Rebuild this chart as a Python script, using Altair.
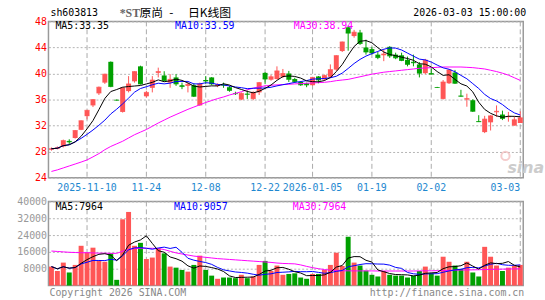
import altair as alt
import pandas as pd

dates = [
    "2025-10-31",
    "2025-11-03", "2025-11-04", "2025-11-05", "2025-11-06", "2025-11-07",
    "2025-11-10", "2025-11-11", "2025-11-12", "2025-11-13", "2025-11-14",
    "2025-11-17", "2025-11-18", "2025-11-19", "2025-11-20", "2025-11-21",
    "2025-11-24", "2025-11-25", "2025-11-26", "2025-11-27", "2025-11-28",
    "2025-12-01", "2025-12-02", "2025-12-03", "2025-12-04", "2025-12-05",
    "2025-12-08", "2025-12-09", "2025-12-10", "2025-12-11", "2025-12-12",
    "2025-12-15", "2025-12-16", "2025-12-17", "2025-12-18", "2025-12-19",
    "2025-12-22", "2025-12-23", "2025-12-24", "2025-12-25", "2025-12-26",
    "2025-12-29", "2025-12-30", "2025-12-31",
    "2026-01-05", "2026-01-06", "2026-01-07", "2026-01-08", "2026-01-09",
    "2026-01-12", "2026-01-13", "2026-01-14", "2026-01-15", "2026-01-16",
    "2026-01-19", "2026-01-20", "2026-01-21", "2026-01-22", "2026-01-23",
    "2026-01-26", "2026-01-27", "2026-01-28", "2026-01-29", "2026-01-30",
    "2026-02-02", "2026-02-03", "2026-02-04", "2026-02-05", "2026-02-06",
    "2026-02-09", "2026-02-10", "2026-02-11", "2026-02-12", "2026-02-13",
    "2026-02-24", "2026-02-25", "2026-02-26", "2026-02-27",
    "2026-03-02", "2026-03-03",
]

opens = [28.3, 28.45, 28.8, 29.65, 30.1, 31.35, 33.45, 35.1, 36.95, 38.6,
         41.8, 35.95, 34.1, 37.3, 38.8, 41.1, 36.5, 37.8, 40.1, 39.7,
         38.6, 39.4, 38.2, 38.1, 38.2, 35.1, 39.0, 39.4, 38.1, 38.3,
         37.9, 36.95, 36.0, 36.9, 36.1, 37.1, 40.1, 39.05, 39.15, 39.5,
         40.0, 39.15, 38.7, 38.5, 38.2, 39.55, 39.1, 39.5, 40.6, 43.45,
         47.1, 45.75, 46.3, 44.0, 43.75, 42.9, 42.8, 44.1, 42.9, 42.8,
         42.1, 41.8, 41.4, 40.05, 40.05, 37.9, 36.1, 38.5, 40.15, 36.6,
         36.0, 35.9, 32.7, 31.0, 32.5, 34.05, 33.7, 33.3, 32.0, 32.4]
closes = [28.45, 28.6, 29.7, 29.5, 31.25, 32.75, 34.35, 36.0, 37.9, 39.9,
          38.0, 35.9, 37.8, 38.4, 40.3, 38.4, 37.1, 39.0, 40.3, 38.9,
          39.1, 38.4, 38.0, 38.35, 36.5, 38.4, 38.85, 38.4, 38.3, 38.2,
          37.4, 36.9, 36.95, 36.8, 37.1, 38.6, 39.15, 39.5, 40.4, 40.0,
          39.1, 38.75, 38.25, 38.25, 39.4, 39.0, 39.7, 40.6, 42.75, 44.85,
          46.2, 46.35, 44.6, 43.3, 43.15, 42.45, 43.0, 42.7, 42.4, 42.0,
          41.4, 41.65, 40.05, 42.05, 39.9, 37.85, 38.7, 40.55, 38.5, 36.5,
          36.15, 34.2, 32.6, 33.0, 33.5, 34.2, 33.1, 33.4, 32.9, 33.2]
highs = [28.65, 28.8, 29.85, 29.9, 31.3, 32.8, 34.4, 36.05, 38.0, 39.95,
         41.85, 36.0, 37.85, 39.6, 40.35, 41.2, 37.35, 39.6, 40.9, 40.35,
         39.9, 39.9, 38.6, 38.6, 38.5, 38.6, 39.6, 39.45, 38.5, 38.6,
         38.1, 37.2, 37.1, 37.4, 37.25, 38.7, 40.2, 39.8, 41.1, 40.7,
         40.4, 39.35, 38.85, 38.6, 39.45, 39.6, 39.85, 41.4, 42.8, 44.9,
         47.35, 46.7, 46.7, 45.2, 44.1, 43.3, 43.75, 44.2, 43.2, 43.2,
         42.6, 42.9, 41.75, 42.25, 40.8, 37.95, 39.0, 40.65, 40.55, 37.5,
         36.9, 36.05, 33.6, 33.5, 33.6, 35.1, 34.3, 34.1, 33.4, 34.2]
lows = [28.15, 28.35, 28.65, 29.15, 30.0, 31.3, 32.95, 34.85, 36.7, 38.4,
        37.9, 35.85, 34.0, 37.1, 38.6, 38.3, 36.3, 37.1, 39.4, 38.85,
        37.8, 38.1, 37.6, 37.1, 36.4, 35.05, 38.4, 38.2, 37.9, 37.8,
        37.2, 36.7, 35.9, 36.1, 35.9, 36.7, 38.4, 38.9, 39.1, 39.3,
        38.7, 38.55, 38.1, 37.9, 38.15, 38.5, 38.9, 39.35, 40.4, 43.3,
        43.5, 45.5, 44.4, 42.9, 42.9, 42.2, 41.9, 42.4, 42.2, 41.9,
        41.1, 41.1, 39.4, 39.9, 39.85, 37.8, 36.0, 38.4, 38.4, 36.45,
        34.9, 34.1, 32.55, 30.85, 31.25, 33.35, 32.85, 32.6, 32.0, 32.4]
volumes = [9000, 6900, 10900, 6200, 9800, 18900, 15800, 18000, 11700, 11300,
           15300, 2700, 31500, 35000, 18900, 20300, 12600, 13300, 17700, 15300,
           9000, 8500, 7400, 6600, 9800, 14200, 7400, 4700, 3200, 3800,
           3800, 3500, 5100, 3500, 4300, 9800, 11700, 6900, 9500, 5100,
           5500, 5800, 3800, 3200, 5500, 5500, 7400, 9800, 15600, 9300,
           23200, 10900, 9500, 7100, 5100, 4300, 6900, 5100, 4700, 4700,
           3800, 4600, 6900, 9000, 5800, 4700, 13700, 11300, 9500, 7900,
           11300, 6200, 4300, 18400, 13700, 9500, 6900, 8500, 9500, 9800]
ma30 = [24.96, 25.2, 25.5, 25.8, 26.1, 26.4, 26.73, 27.2, 27.7, 28.3,
        28.8, 29.2, 29.6, 30.1, 30.6, 31.0, 31.4, 31.9, 32.4, 32.85,
        33.3, 33.7, 34.1, 34.5, 34.85, 35.2, 35.55, 35.85, 36.15, 36.4,
        36.7, 36.95, 37.2, 37.5, 37.75, 37.95, 38.1, 38.2, 38.25, 38.3,
        38.35, 38.4, 38.45, 38.5, 38.55, 38.6, 38.65, 38.75, 38.9, 39.0,
        39.1, 39.3, 39.5, 39.7, 39.9, 40.05, 40.2, 40.3, 40.4, 40.5,
        40.6, 40.7, 40.8, 40.85, 40.9, 40.95, 41.0, 41.0, 41.0, 41.0,
        40.95, 40.9, 40.8, 40.7, 40.5, 40.3, 40.05, 39.75, 39.35, 38.94]
vol_ma30 = [16400, 16200, 16000, 15800, 15700, 15600, 15600, 15500, 15400, 15400,
            15300, 15300, 16300, 17200, 17600, 17700, 17700, 17700, 17600, 17100,
            16300, 15500, 15000, 14500, 14000, 13700, 13400, 13100, 12800, 12600,
            12400, 12200, 12000, 11800, 11600, 11400, 11200, 11000, 10700, 10500,
            10400, 10300, 9800, 9100, 8500, 8000, 7600, 7300, 7100, 7000,
            7000, 6950, 6950, 6950, 6950, 6900, 6900, 6900, 6900, 6900,
            6900, 6900, 6950, 7000, 7000, 7050, 7100, 7200, 7300, 7350,
            7400, 7450, 7500, 7600, 7700, 7750, 7800, 7850, 7900, 7950]

label_dates = ["2025-11-10", "2025-11-24", "2025-12-08", "2025-12-22",
               "2026-01-05", "2026-01-19", "2026-02-02", "2026-03-03"]
price_ticks = [24, 28, 32, 36, 40, 44, 48]
vol_ticks = [8000, 16000, 24000, 32000, 40000]

RED = "#FF5656"
GREEN = "#00A000"
XLAB = "#1E88D0"
MONO = "DejaVu Sans Mono"
W, HP, HV = 480, 158, 85

df = pd.DataFrame(dict(date=dates, idx=list(range(len(dates))), open=opens,
                       close=closes, high=highs, low=lows, vol=volumes,
                       ma30=ma30, vma30=vol_ma30))
base = alt.Chart(df).transform_calculate(
    dir="datum.close >= datum.open ? 'up' : 'down'")

xscale = alt.Scale(type="band", domain=dates, paddingInner=0, paddingOuter=0)
xaxis = alt.Axis(values=label_dates, ticks=False, domain=False, grid=False,
                 labelColor=XLAB, labelPadding=5, labelFlush=False,
                 labelOverlap=False, labelAngle=0,
                 labelExpr="(datum.value == '2025-11-10' || datum.value == '2026-01-05') ? datum.value : slice(datum.value, 5)",
                 labelAlign={"condition": {"test": "datum.value == '2026-03-03'", "value": "right"}, "value": "center"})
xp = alt.X("date:O", scale=xscale, axis=xaxis, title=None)
xv = alt.X("date:O", scale=xscale, axis=None, title=None)

color = alt.Color("dir:N", scale=alt.Scale(domain=["up", "down"], range=[RED, GREEN]), legend=None)

pscale = alt.Scale(domain=[24, 48], nice=False, zero=False)
paxis = alt.Axis(values=price_ticks, grid=True, gridDash=[2, 2], gridColor="#b4b4b4",
                 ticks=False, domain=False, labelColor="#FF0000", labelPadding=2,
                 labelFlush=False, labelOverlap=False, title=None)
vscale = alt.Scale(domain=[0, 40000], nice=False)
vaxis = alt.Axis(values=vol_ticks, grid=True, gridDash=[2, 2], gridColor="#b4b4b4",
                 ticks=False, domain=False, labelColor="#999999", labelPadding=2,
                 labelFlush=False, labelOverlap=False, format="d", title=None)


def py(field):
    return alt.Y(field, scale=pscale, axis=paxis, title=None)


def vy(field):
    return alt.Y(field, scale=vscale, axis=vaxis, title=None)


def txt(s, x, y, color="black", align="left", size=10, font=MONO, **kw):
    return alt.Chart(pd.DataFrame({"t": [s]})).mark_text(
        align=align, baseline="middle", fontSize=size, font=font, color=color, **kw
    ).encode(x=alt.value(x), y=alt.value(y), text="t:N")


marks_df = pd.DataFrame({"date": label_dates})
vrules_p = alt.Chart(marks_df).mark_rule(color="#aaaaaa", strokeDash=[5, 3], strokeWidth=1).encode(x=xp)
vrules_v = alt.Chart(marks_df).mark_rule(color="#aaaaaa", strokeDash=[5, 3], strokeWidth=1).encode(x=xv)

wicks = base.mark_rule(strokeWidth=1).encode(x=xp, y=py("low:Q"), y2="high:Q", color=color)
bodies = base.mark_bar(size=5).encode(x=xp, y=py("open:Q"), y2="close:Q", color=color)
dojis = base.mark_tick(size=5, thickness=1, orient="horizontal").encode(x=xp, y=py("close:Q"), color=color)

ma5_p = base.transform_window(m5="mean(close)", frame=[-4, 0], sort=[alt.SortField("idx")]) \
    .mark_line(color="black", strokeWidth=1).encode(x=xp, y=py("m5:Q"))
ma10_p = base.transform_window(m10="mean(close)", frame=[-9, 0], sort=[alt.SortField("idx")]) \
    .mark_line(color="#0000FF", strokeWidth=1).encode(x=xp, y=py("m10:Q"))
ma30_p = base.mark_line(color="#FF00FF", strokeWidth=1).encode(x=xp, y=py("ma30:Q"))

price = alt.layer(
    vrules_p, wicks, bodies, dojis, ma30_p, ma10_p, ma5_p,
    txt("sh603813", 2, -8),
    txt("*ST", 72, -8, color="#666666", size=12, font="Liberation Serif", fontWeight="bold"),
    txt("原尚", 92, -8, size=12, font="Noto Sans CJK SC"),
    txt("-", 122, -8, size=12, font="Noto Sans CJK SC"),
    txt("日K线图", 141, -8, size=12, font="Noto Sans CJK SC"),
    txt("2026-03-03 15:00:00", 483, -8, align="right"),
    txt("MA5:33.35", 7, 5),
    txt("MA10:33.59", 128, 5, color="#0000FF"),
    txt("MA30:38.94", 248, 5, color="#FF00FF"),
    txt("sina", 464, 148, color="#cccccc", size=16, font="DejaVu Sans", fontStyle="italic", fontWeight="bold"),
    alt.Chart(pd.DataFrame({"t": [1]})).mark_point(shape="circle", size=70, stroke="#f2b8b8", strokeWidth=2, filled=False)
    .encode(x=alt.value(462), y=alt.value(136)),
).properties(width=W, height=HP)

vbars = base.mark_bar(size=5).encode(x=xv, y=vy("vol:Q"), color=color)
ma5_v = base.transform_window(v5="mean(vol)", frame=[-4, 0], sort=[alt.SortField("idx")]) \
    .mark_line(color="black", strokeWidth=1).encode(x=xv, y=vy("v5:Q"))
ma10_v = base.transform_window(v10="mean(vol)", frame=[-9, 0], sort=[alt.SortField("idx")]) \
    .mark_line(color="#0000FF", strokeWidth=1).encode(x=xv, y=vy("v10:Q"))
ma30_v = base.mark_line(color="#FF00FF", strokeWidth=1).encode(x=xv, y=vy("vma30:Q"))

volume = alt.layer(
    vrules_v, vbars, ma30_v, ma10_v, ma5_v,
    txt("MA5:7964", 7, 6),
    txt("MA10:9057", 127, 6, color="#0000FF"),
    txt("MA30:7964", 247, 6, color="#FF00FF"),
    txt("Copyright 2026 SINA.COM", 1, 93, color="#888888"),
    txt("http://finance.sina.com.cn", 481, 93, color="#888888", align="right"),
).properties(width=W, height=HV)

chart = alt.vconcat(price, volume, spacing=24, bounds="flush").properties(
    padding={"left": 16, "top": 5, "right": 0, "bottom": 0},
    autosize=alt.AutoSizeParams(type="pad"),
    background="white",
).configure_view(stroke="#9a9a9a", strokeWidth=1.5).configure_axis(
    labelFont=MONO, labelFontSize=10
)

chart.save("out.html", embed_options={"renderer": "svg", "actions": False})
